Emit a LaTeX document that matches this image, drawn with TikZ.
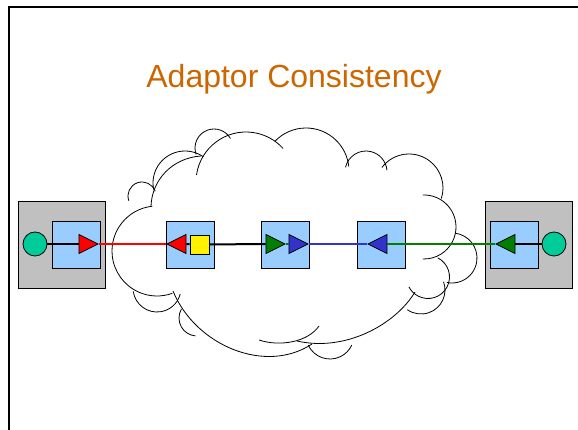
\documentclass[tikz,border=0pt]{standalone}
\usepackage{fontspec}
\setmainfont{Liberation Sans}
\usetikzlibrary{shapes.geometric,positioning}
\definecolor{boxblue}{HTML}{99CCFF}
\definecolor{boxgray}{HTML}{C0C0C0}
\definecolor{endgreen}{HTML}{00CC99}
\definecolor{portgreen}{HTML}{007F00}
\definecolor{portblue}{HTML}{3333CC}
\definecolor{titleorange}{HTML}{CC6600}
\tikzset{
    host/.style={rectangle, draw, line width=0.8pt, fill=boxgray, minimum width=87pt, minimum height=87pt, inner sep=0},
    adaptor/.style={rectangle, draw, line width=0.8pt, fill=boxblue, minimum width=48pt, minimum height=47pt, inner sep=0},
    endpoint/.style={circle, draw, line width=0.8pt, fill=endgreen, minimum size=24pt, inner sep=0},
    raw port/.style={isosceles triangle, isosceles triangle stretches, draw, line width=0.8pt, minimum width=19pt, minimum height=19pt, inner sep=0, anchor=apex},
    port right/.style={raw port},
    port left/.style={raw port, shape border rotate=180},
    plug/.style={rectangle, draw, line width=0.8pt, fill=yellow, minimum size=19pt, inner sep=0},
    wire/.style={line width=2pt},
    puff line/.style={line width=0.8pt}
}

\begin{document}
\begin{tikzpicture}[x=1pt, y=-1pt]
    \useasboundingbox (0,0) rectangle (578,430);
    % slide frame
    \draw[line width=2.5pt] (9,430) -- (9,7) -- (578,7);
    \node[text=titleorange, font=\fontsize{32}{38}\selectfont] (title) at (294,79) {Adaptor Consistency};
    % network cloud, drawn as open puffs (centre x/y, radius, start, end)
    \foreach \cx/\cy/\r/\a/\b in {157/251/45/264/70, 142/196/14/160/340, 185/183/32/168/305,
        214/148/19/160/330, 246/182/50/188/318, 306/171/43/224/354, 366/172/21/193/355,
        409/188/34/217/378, 424/227/32/268/452, 452/258/25/-83/102, 428/277/21.5/-63/153,
        421/290/24/-20/125, 330/335/24/155/25, 157/288/24/172/15, 197/318/18/210/95}
        \draw[puff line] ([shift={(\a:\r)}] \cx,\cy) arc[start angle=\a, end angle=\b, radius=\r];
    \draw[puff line] (415,292) .. controls (395,325) and (345,352) .. (297,341);
    \draw[puff line] (259,340) .. controls (280,347) and (308,342) .. (319,326);
    \draw[puff line] (173,291) .. controls (195,345) and (265,375) .. (312,344);
    \draw[puff line] (151,206) .. controls (152,180) and (172,158) .. (201,156);
    % hosts and adaptors
    \node[host] (hostL) at (61.5,244.5) {};
    \node[host] (hostR) at (529,244.5) {};
    \node[adaptor] (adA) at (76,244.5) {};
    \node[adaptor] (adB) at (190,244.5) {};
    \node[adaptor] (adC) at (285.5,244.5) {};
    \node[adaptor] (adD) at (381,244.5) {};
    \node[adaptor] (adE) at (514,244.5) {};
    \node[endpoint] (srcL) at (35,244) {};
    \node[endpoint] (srcR) at (554,244) {};
    % ports
    \node[port right, fill=red] (pA) at (99,244) {};
    \node[port left, fill=red] (pB) at (166,244) {};
    \node[plug] (pY) at (199.5,244.5) {};
    \node[port right, fill=portgreen] (pC) at (286,244) {};
    \node[port right, fill=portblue] (pD) at (309,244) {};
    \node[port left, fill=portblue] (pE) at (367,244) {};
    \node[port left, fill=portgreen] (pF) at (495,244) {};
    % wires
    \draw[wire] (srcL) -- (pA);
    \draw[wire, red] (pA.apex) -- (pB.apex);
    \draw[wire] (pB) -- (pY);
    \draw[wire] (pY) -- (pC);
    \draw[wire, portgreen] (pC.apex) -- (pD);
    \draw[wire, portblue] (pD.apex) -- (pE.apex);
    \draw[wire, portgreen] (pE) -- (pF.apex);
    \draw[wire] (pF) -- (srcR);
\end{tikzpicture}
\end{document}
